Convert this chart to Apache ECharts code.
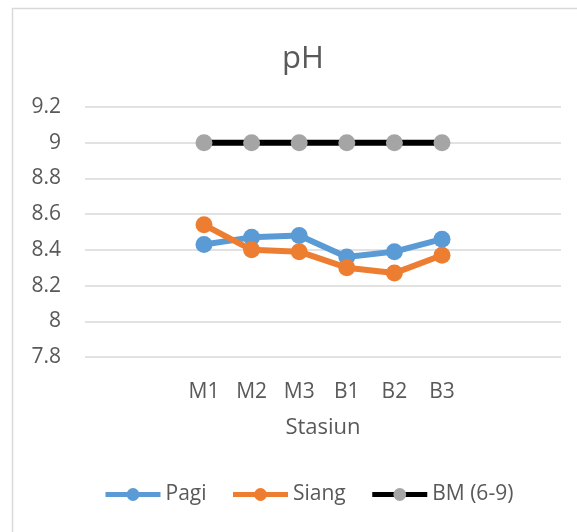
<!DOCTYPE html>
<html>
<head>
<meta charset="utf-8">
<script src="https://cdn.jsdelivr.net/npm/echarts@6/dist/echarts.min.js"></script>
<style>
  html, body { margin: 0; padding: 0; background: #fff; }
  #echart { width: 577px; height: 532px; }
</style>
</head>
<body>
<div id="echart"></div>
<script>
// stations, padded with empty slots like the original sheet
var categories = ['', '', 'M1', 'M2', 'M3', 'B1', 'B2', 'B3', '', ''];
var pagi  = [null, null, 8.43, 8.47, 8.48, 8.36, 8.39, 8.46, null, null];
var siang = [null, null, 8.54, 8.40, 8.39, 8.30, 8.27, 8.37, null, null];
var bm    = [null, null, 9, 9, 9, 9, 9, 9, null, null];
var yTicks = [7.8, 8, 8.2, 8.4, 8.6, 8.8, 9, 9.2];

try {
    var chart_el = document.getElementById('echart');
    var chart = echarts.init(chart_el);
    var font = '"Open Sans", "Noto Sans", sans-serif';
    var grey = '#595959';
    option = {
        backgroundColor: '#fff',
        animation: false,
        graphic: [{
            type: 'rect',
            shape: { x: 12.5, y: 8.5, width: 700, height: 700 },
            style: { fill: 'none', stroke: '#d9d9d9', lineWidth: 1.5 },
            silent: true
        }],
        title: {
            text: 'pH',
            left: 298,
            top: 39,
            textAlign: 'center',
            textStyle: { fontFamily: font, fontSize: 31, fontWeight: 'normal', color: grey }
        },
        grid: { left: 85, right: 16, top: 107, bottom: 175 },
        legend: {
            bottom: 22,
            left: 98,
            itemWidth: 55,
            itemHeight: 16,
            itemGap: 24,
            lineStyle: { width: 5 },
            textStyle: { fontFamily: font, fontSize: 21, color: grey },
            data: ['Pagi', 'Siang', 'BM (6-9)']
        },
        xAxis: {
            type: 'category',
            data: categories,
            name: 'Stasiun',
            nameLocation: 'middle',
            nameGap: 60,
            nameTextStyle: { fontFamily: font, fontSize: 22, color: grey },
            axisLine: { show: false },
            axisTick: { show: false },
            axisLabel: { fontFamily: font, fontSize: 21, color: grey, margin: 25, interval: 0 }
        },
        yAxis: {
            type: 'value',
            min: yTicks[0],
            max: yTicks[yTicks.length - 1],
            interval: 0.2,
            axisLine: { show: false },
            axisTick: { show: false },
            splitLine: { lineStyle: { color: '#d9d9d9', width: 1.5 } },
            axisLabel: {
                fontFamily: font, fontSize: 21, color: grey, margin: 24,
                formatter: function (v) { return String(Math.round(v * 10) / 10); }
            }
        },
        series: [
            {
                name: 'BM (6-9)', type: 'line', data: bm,
                symbol: 'circle', symbolSize: 17,
                lineStyle: { color: '#000', width: 6 },
                itemStyle: { color: '#a5a5a5' },
                z: 1
            },
            {
                name: 'Pagi', type: 'line', data: pagi,
                symbol: 'circle', symbolSize: 17,
                lineStyle: { color: '#5b9bd5', width: 6 },
                itemStyle: { color: '#5b9bd5' },
                z: 2
            },
            {
                name: 'Siang', type: 'line', data: siang,
                symbol: 'circle', symbolSize: 17,
                lineStyle: { color: '#ed7d31', width: 6 },
                itemStyle: { color: '#ed7d31' },
                z: 3
            }
        ]
    };
    chart.setOption(option);
} catch (error) {
    console.error('Failed to draw chart');
    console.error(error);
}
</script>
</body>
</html>
